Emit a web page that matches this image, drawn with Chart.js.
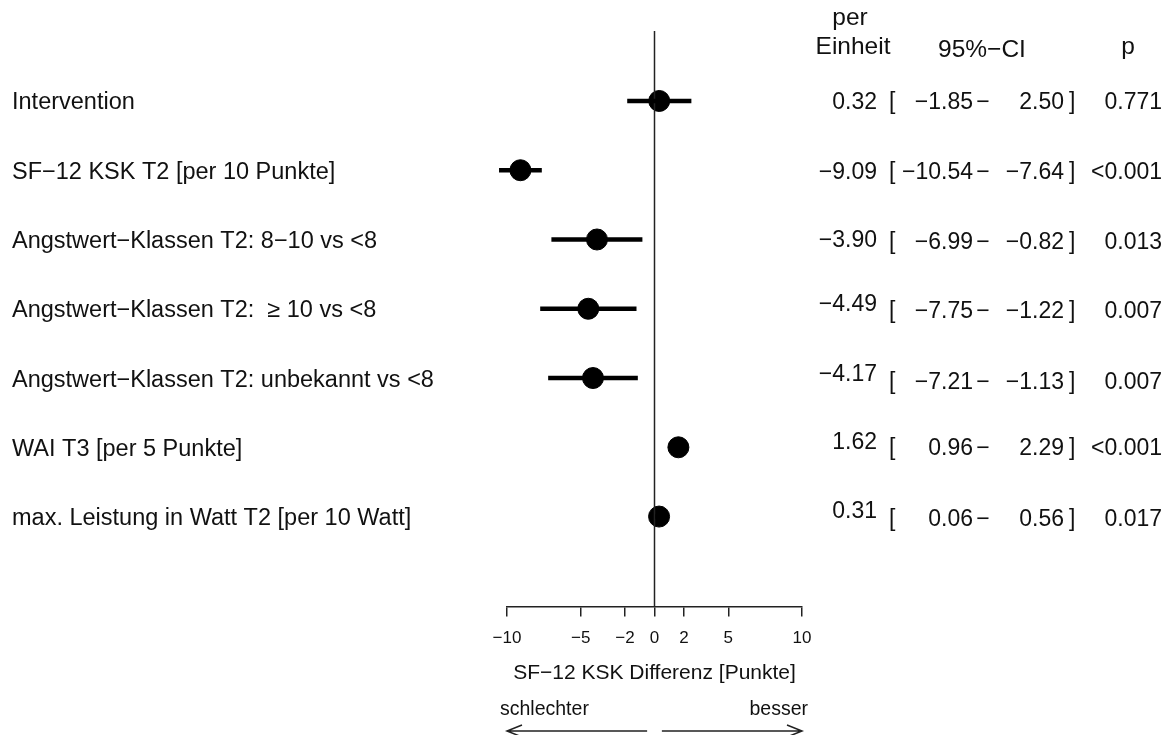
<!DOCTYPE html>
<html>
<head>
<meta charset="utf-8">
<script src="https://cdn.jsdelivr.net/npm/chart.js@4.4.1/dist/chart.umd.min.js"></script>
<style>
html,body{margin:0;padding:0;background:#fff;}
canvas{display:block;}
</style>
</head>
<body>
<canvas id="c" width="1171" height="735"></canvas>
<script>
// ---- data ----
const labels = [
  "Intervention",
  "SF\u221212 KSK T2 [per 10 Punkte]",
  "Angstwert\u2212Klassen T2: 8\u221210 vs <8",
  "Angstwert\u2212Klassen T2:  \u2265 10 vs <8",
  "Angstwert\u2212Klassen T2: unbekannt vs <8",
  "WAI T3 [per 5 Punkte]",
  "max. Leistung in Watt T2 [per 10 Watt]"
];
const estimate = [0.32, -9.09, -3.90, -4.49, -4.17, 1.62, 0.31];
const ciLower  = [-1.85, -10.54, -6.99, -7.75, -7.21, 0.96, 0.06];
const ciUpper  = [2.50, -7.64, -0.82, -1.22, -1.13, 2.29, 0.56];
const pValues  = ["0.771", "<0.001", "0.013", "0.007", "0.007", "<0.001", "0.017"];
const xTicks   = [-10, -5, -2, 0, 2, 5, 10];
const headers  = {unit: ["per", "Einheit"], ci: "95%\u2212CI", p: "p"};
const axisTitle = "SF\u221212 KSK Differenz [Punkte]";
const arrowLabels = ["schlechter", "besser"];

// ---- layout (text offsets, px) ----
const estDy  = [2, 2, 1, -4, -3, -5, -5];
const restDy = [2, 2, 3, 3, 5, 1, 3];
const FAM = "'Liberation Sans', Arial, Helvetica, sans-serif";
const INK = '#111';

const fmt = v => v.toFixed(2).replace('-', '\u2212');

const datasets = [];
for (let i = 0; i < labels.length; i++) {
  datasets.push({
    type: 'line',
    data: [{x: ciLower[i], y: i}, {x: ciUpper[i], y: i}],
    borderColor: '#000', borderWidth: 4.5, pointRadius: 0, borderCapStyle: 'butt',
    clip: false
  });
}
datasets.push({
  type: 'line',
  data: [{x: 0, y: -1.01}, {x: 0, y: 7.3}],
  borderColor: '#222', borderWidth: 1.5, pointRadius: 0
});
datasets.push({
  type: 'scatter',
  data: estimate.map((v, i) => ({x: v, y: i})),
  backgroundColor: '#000', borderColor: '#000', pointRadius: 10.5, pointHoverRadius: 10.5,
  clip: false
});

const textPlugin = {
  id: 'forestText',
  afterDraw(chart) {
    const ctx = chart.ctx;
    const xs = chart.scales.x, ys = chart.scales.y;
    ctx.save();
    ctx.fillStyle = INK;
    ctx.textBaseline = 'middle';
    // row labels
    ctx.font = `23.5px ${FAM}`;
    ctx.textAlign = 'left';
    labels.forEach((l, i) => ctx.fillText(l, 12, ys.getPixelForValue(i) + 2));
    // table
    ctx.font = `23px ${FAM}`;
    for (let i = 0; i < labels.length; i++) {
      const y = ys.getPixelForValue(i);
      ctx.textAlign = 'right';
      ctx.fillText(fmt(estimate[i]), 877, y + estDy[i]);
      const yr = y + restDy[i];
      ctx.textAlign = 'left';
      ctx.fillText('[', 889, yr);
      ctx.textAlign = 'right';
      ctx.fillText(fmt(ciLower[i]), 973, yr);
      ctx.textAlign = 'center';
      ctx.fillText('\u2212', 983, yr);
      ctx.textAlign = 'right';
      ctx.fillText(fmt(ciUpper[i]), 1064, yr);
      ctx.textAlign = 'left';
      ctx.fillText(']', 1069, yr);
      ctx.textAlign = 'right';
      ctx.fillText(pValues[i], 1162, yr);
    }
    // headers
    ctx.font = `24.5px ${FAM}`;
    ctx.textAlign = 'center';
    ctx.fillText(headers.unit[0], 850, 18);
    ctx.fillText(headers.unit[1], 853, 47);
    ctx.fillText(headers.ci, 982, 50);
    ctx.fillText(headers.p, 1128, 47);
    // arrows
    const xl = xs.getPixelForValue(-10), xr = xs.getPixelForValue(10);
    const xm1 = xs.getPixelForValue(-0.5), xm2 = xs.getPixelForValue(0.5);
    ctx.font = `19.5px ${FAM}`;
    ctx.textAlign = 'left';
    ctx.fillText(arrowLabels[0], xl - 7, 710);
    ctx.textAlign = 'right';
    ctx.fillText(arrowLabels[1], xr + 6, 710);
    ctx.strokeStyle = '#222';
    ctx.lineWidth = 1.5;
    const ay = 731;
    ctx.beginPath();
    ctx.moveTo(xl, ay); ctx.lineTo(xm1, ay);
    ctx.moveTo(xl + 15, ay - 6); ctx.lineTo(xl, ay); ctx.lineTo(xl + 15, ay + 6);
    ctx.moveTo(xm2, ay); ctx.lineTo(xr, ay);
    ctx.moveTo(xr - 15, ay - 6); ctx.lineTo(xr, ay); ctx.lineTo(xr - 15, ay + 6);
    ctx.stroke();
    ctx.restore();
  }
};

new Chart(document.getElementById('c'), {
  type: 'scatter',
  data: {datasets},
  options: {
    responsive: false,
    animation: false,
    devicePixelRatio: 1,
    layout: {padding: {left: 507, right: 369, top: 31, bottom: 48.8}},
    scales: {
      x: {
        type: 'linear', min: -10, max: 10,
        afterBuildTicks: s => { s.ticks = xTicks.map(v => ({value: v})); },
        grid: {drawOnChartArea: false, drawTicks: true, tickLength: 10, color: '#222', lineWidth: 1.5},
        border: {display: true, color: '#222', width: 1.5},
        ticks: {
          font: {size: 17, family: FAM}, color: INK, padding: 12,
          maxRotation: 0, autoSkip: false,
          callback: v => String(v).replace('-', '\u2212')
        },
        title: {display: true, text: axisTitle, font: {size: 21, family: FAM}, color: INK, padding: {top: 0, bottom: 0}}
      },
      y: {type: 'linear', min: -1.01, max: 7.3, reverse: true, display: false}
    },
    plugins: {legend: {display: false}, tooltip: {enabled: false}}
  },
  plugins: [textPlugin]
});
</script>
</body>
</html>
